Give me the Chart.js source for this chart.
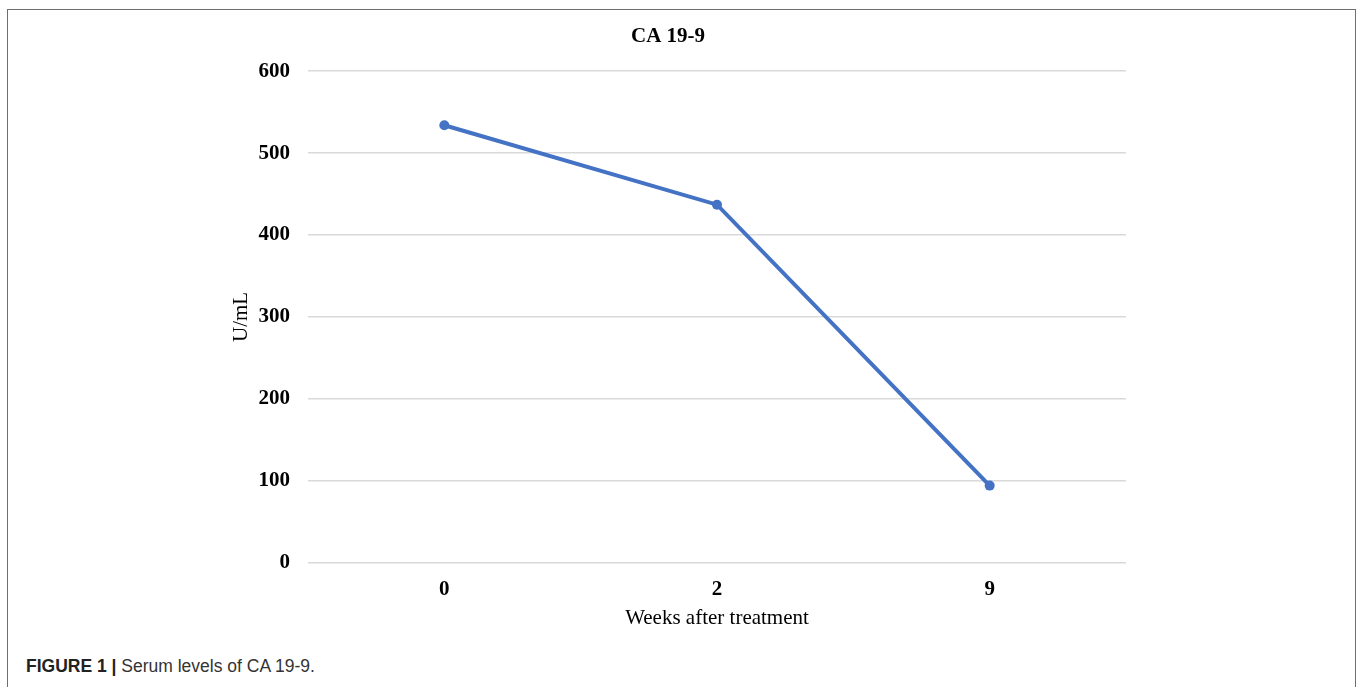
<!DOCTYPE html>
<html>
<head>
<meta charset="utf-8">
<script src="https://cdn.jsdelivr.net/npm/chart.js@4.4.0/dist/chart.umd.min.js"></script>
<style>
  body { margin: 0; background: #fff; width: 1358px; height: 687px; overflow: hidden; position: relative; }
  #frame { position: absolute; left: 7px; top: 9px; width: 1347px; height: 700px;
           border-top: 1.5px solid #6e6e6e; border-left: 1.5px solid #6e6e6e; border-right: 1.5px solid #6e6e6e; }
  #wrap { position: absolute; left: 0; top: 10px; width: 1350px; height: 630px; }
  #caption { position: absolute; left: 26px; top: 656px; font-family: "Liberation Sans", Arial, sans-serif;
             font-size: 17.5px; color: #333; white-space: nowrap; }
  #caption b { color: #222; }
</style>
</head>
<body>
<div id="frame"></div>
<div id="wrap"><canvas id="grafico"></canvas></div>
<div id="caption"><b>FIGURE 1 |</b> Serum levels of CA 19-9.</div>
<script>
// dados
var semanas = ['0', '2', '9'];
var ca199 = [534, 437, 94];
var yTicks = [0, 100, 200, 300, 400, 500, 600];

var fonte = { family: 'Liberation Serif', size: 21, weight: 'normal' };
var fonteNegrito = { family: 'Liberation Serif', size: 21, weight: 'bold' };

var ctx = document.getElementById('grafico').getContext('2d');
var chart = new Chart(ctx, {
  type: 'line',
  data: {
    labels: semanas,
    datasets: [{
      label: 'CA 19-9',
      data: ca199,
      borderColor: '#4472C4',
      backgroundColor: '#4472C4',
      borderWidth: 4,
      pointRadius: 5,
      pointBorderWidth: 0,
      tension: 0
    }]
  },
  options: {
    responsive: true,
    maintainAspectRatio: false,
    animation: false,
    layout: { padding: { left: 210, right: 224, top: 0, bottom: 5 } },
    plugins: {
      legend: { display: false },
      tooltip: { enabled: false },
      title: {
        display: true,
        text: 'CA 19-9',
        color: '#000',
        font: fonteNegrito,
        padding: { top: 14, bottom: 22 }
      }
    },
    scales: {
      x: {
        offset: true,
        grid: { display: false },
        border: { display: false },
        ticks: { color: '#000', font: fonteNegrito, padding: 6 },
        title: { display: true, text: 'Weeks after treatment', color: '#000', font: fonte, padding: { top: -2, bottom: 4 } }
      },
      y: {
        min: yTicks[0],
        max: yTicks[yTicks.length - 1],
        afterBuildTicks: function (scale) {
          scale.ticks = yTicks.map(function (v) { return { value: v }; });
        },
        afterFit: function (scale) { scale.width = 98; },
        grid: { color: '#d9d9d9', lineWidth: 1.5, drawTicks: false },
        border: { display: false },
        ticks: { color: '#000', font: fonteNegrito, padding: 18 },
        title: { display: true, text: 'U/mL', color: '#000', font: fonte, padding: { top: 19, bottom: 0 } }
      }
    }
  }
});
</script>
</body>
</html>
